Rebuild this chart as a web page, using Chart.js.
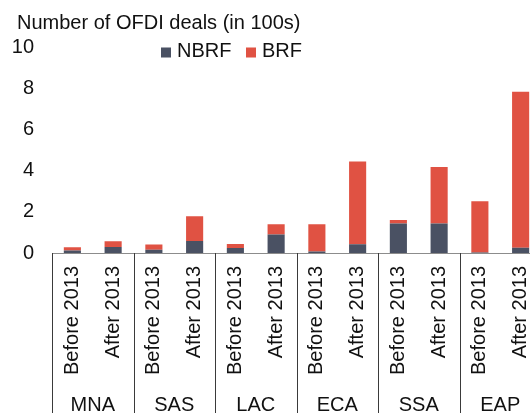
<!DOCTYPE html>
<html>
<head>
<meta charset="utf-8">
<script src="https://cdn.jsdelivr.net/npm/chart.js@4/dist/chart.umd.min.js"></script>
<style>
html, body { margin: 0; padding: 0; background: #fff; overflow: hidden; width: 530px; height: 413px; }
#wrap { position: absolute; left: 0; top: 0; width: 545px; height: 413px; }
canvas { display: block; }
</style>
</head>
<body>
<div id="wrap"><canvas id="c" width="545" height="413"></canvas></div>
<script>
// ---- data ----
const groups = ['MNA', 'SAS', 'LAC', 'ECA', 'SSA', 'EAP'];
const periods = ['Before 2013', 'After 2013'];
const seriesNames = ['NBRF', 'BRF'];
const nbrf = [0.12, 0.29, 0.16, 0.59, 0.24, 0.90, 0.07, 0.42, 1.43, 1.43, 0.02, 0.26];
const brf  = [0.16, 0.28, 0.25, 1.20, 0.20, 0.50, 1.33, 4.03, 0.17, 2.75, 2.50, 7.59];
const yTicks = [0, 2, 4, 6, 8, 10];
const titleText = 'Number of OFDI deals (in 100s)';

const FONT = '"Liberation Sans", Arial, sans-serif';
const TEXT = '#111111';
const COLORS = ['#4a5163', '#e05243'];

const labels = [];
groups.forEach(() => periods.forEach(p => labels.push(p)));

const extras = {
  id: 'extras',
  afterDraw(chart) {
    const ctx = chart.ctx;
    const xs = chart.scales.x;
    const area = chart.chartArea;
    const H = chart.height;
    ctx.save();
    // title
    ctx.fillStyle = TEXT;
    ctx.font = '20px ' + FONT;
    ctx.textAlign = 'left';
    ctx.textBaseline = 'alphabetic';
    ctx.fillText(titleText, 17, 28.5);
    // legend
    const legendX = [161, 246];
    chart.data.datasets.forEach((ds, i) => {
      ctx.fillStyle = ds.backgroundColor;
      ctx.fillRect(legendX[i], 47.5, 10, 10);
      ctx.fillStyle = TEXT;
      ctx.fillText(ds.label, legendX[i] + 16, 57.3);
    });
    // group dividers and labels
    const half = (xs.getPixelForValue(1) - xs.getPixelForValue(0)) / 2;
    ctx.strokeStyle = '#3a3a3a';
    ctx.lineWidth = 1;
    for (let g = 0; g <= groups.length; g++) {
      const idx = g * periods.length;
      const x = Math.round(xs.getPixelForValue(idx) - half) + 0.5;
      ctx.beginPath();
      ctx.moveTo(x, area.bottom);
      ctx.lineTo(x, H);
      ctx.stroke();
    }
    ctx.fillStyle = TEXT;
    ctx.textAlign = 'center';
    groups.forEach((gname, g) => {
      const a = xs.getPixelForValue(g * periods.length);
      const b = xs.getPixelForValue(g * periods.length + periods.length - 1);
      ctx.fillText(gname, (a + b) / 2, H - 2);
    });
    ctx.restore();
  }
};

new Chart(document.getElementById('c'), {
  type: 'bar',
  data: {
    labels: labels,
    datasets: [
      { label: seriesNames[0], data: nbrf, backgroundColor: COLORS[0] },
      { label: seriesNames[1], data: brf, backgroundColor: COLORS[1] }
    ]
  },
  options: {
    responsive: false,
    animation: false,
    layout: { padding: { left: 12, right: 4, top: 47.5, bottom: 0 } },
    datasets: { bar: { barPercentage: 0.42, categoryPercentage: 1.0, borderWidth: 0 } },
    plugins: {
      legend: { display: false },
      title: { display: false },
      tooltip: { enabled: false }
    },
    scales: {
      x: {
        stacked: true,
        grid: { display: false, drawTicks: false },
        border: { display: true, color: '#8c8c8c', width: 1 },
        afterFit: s => { s.height = 160; s.paddingLeft = 0; s.paddingRight = 0; },
        ticks: {
          autoSkip: false, maxRotation: 90, minRotation: 90, padding: 13,
          color: TEXT, font: { family: FONT, size: 20 }
        }
      },
      y: {
        stacked: true, min: 0, max: 10,
        afterBuildTicks: s => { s.ticks = yTicks.map(v => ({ value: v })); },
        afterFit: s => { s.width = 40; },
        grid: { display: false, drawTicks: false },
        border: { display: false },
        ticks: { padding: 18, color: TEXT, font: { family: FONT, size: 20 } }
      }
    }
  },
  plugins: [extras]
});
</script>
</body>
</html>
